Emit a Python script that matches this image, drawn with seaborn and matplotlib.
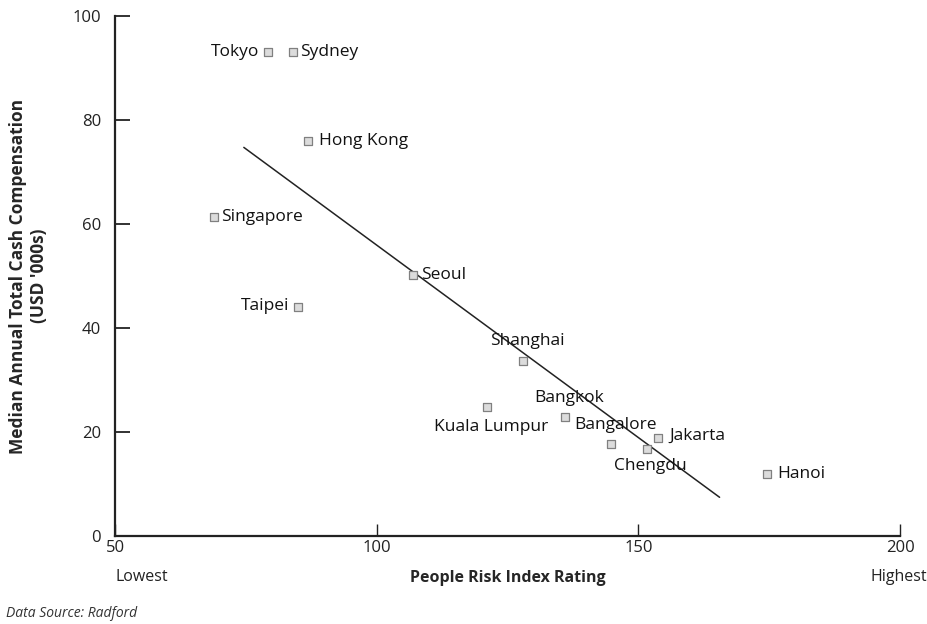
import numpy as np
import pandas as pd
import matplotlib
matplotlib.use("Agg")
import matplotlib.pyplot as plt
import seaborn as sns

# values
cities = ["Tokyo", "Sydney", "Hong Kong", "Singapore", "Taipei", "Seoul", "Shanghai",
          "Kuala Lumpur", "Bangkok", "Bangalore", "Chengdu", "Jakarta", "Hanoi"]
risk = [79.2, 84.0, 86.8, 68.9, 84.9, 106.9, 127.9, 121.0, 135.9, 144.8, 151.7, 153.8, 174.6]
pay = [93.1, 93.1, 76.0, 61.3, 44.0, 50.2, 33.7, 24.8, 22.9, 17.7, 16.7, 18.8, 11.9]
fit_range = [74.6, 165.5]
x_ticks = [50, 100, 150, 200]
y_ticks = [0, 20, 40, 60, 80, 100]

# label offsets (points) and alignment for each city
label_pos = {
    "Tokyo": (-6, 0, "right", "center"),
    "Sydney": (5, 0, "left", "center"),
    "Hong Kong": (8, 0, "left", "center"),
    "Singapore": (5, 0, "left", "center"),
    "Taipei": (-6, 1, "right", "center"),
    "Seoul": (6, 0, "left", "center"),
    "Shanghai": (3, 14, "center", "center"),
    "Kuala Lumpur": (3, -14, "center", "center"),
    "Bangkok": (3, 14, "center", "center"),
    "Bangalore": (3, 14, "center", "center"),
    "Chengdu": (2, -12, "center", "center"),
    "Jakarta": (8, 2, "left", "center"),
    "Hanoi": (7, 0, "left", "center"),
}

df = pd.DataFrame({"city": cities, "risk": risk, "pay": pay})

sns.set_theme(style="ticks")
plt.rcParams["font.family"] = ["Open Sans", "DejaVu Sans"]

fig = plt.figure(figsize=(9.28, 6.24), dpi=100)
ax = fig.add_axes([0.124, 0.141, 0.846, 0.833])

sns.scatterplot(data=df, x="risk", y="pay", marker="s", s=28, color="#dcdcdc",
                edgecolor="#808080", linewidth=0.9, ax=ax, zorder=3)

# least squares line, drawn over the span shown in the reference
slope, icpt = np.polyfit(df["risk"], df["pay"], 1)
line_x = np.array(fit_range)
sns.lineplot(x=line_x, y=slope * line_x + icpt, color="#222222", linewidth=1.1, ax=ax)

for _, r in df.iterrows():
    dx, dy, ha, va = label_pos[r["city"]]
    ax.annotate(r["city"], (r["risk"], r["pay"]), xytext=(dx, dy),
                textcoords="offset points", ha=ha, va=va, fontsize=12.5, color="#111111")

ax.set_xlim(50, 200)
ax.set_ylim(0, 100)
ax.set_xticks(x_ticks)
ax.set_yticks(y_ticks)
sns.despine(ax=ax)
for s in ["left", "bottom"]:
    ax.spines[s].set_color("#222222")
    ax.spines[s].set_linewidth(1.6)
ax.tick_params(axis="y", direction="in", length=11, width=1.3, color="#222222", pad=10,
               labelsize=12, labelcolor="#222222")
ax.tick_params(axis="x", direction="in", length=9, width=1.0, color="#222222", pad=3,
               labelsize=12, labelcolor="#222222")

ax.set_xlabel("People Risk Index Rating", fontsize=11.5, fontweight="bold", labelpad=10)
ax.set_ylabel("Median Annual Total Cash Compensation\n(USD '000s)", fontsize=12.5,
              fontweight="bold", labelpad=18)

fig.text(0.124, 0.075, "Lowest", ha="left", va="center", fontsize=11.5, color="#222222")
fig.text(0.999, 0.075, "Highest", ha="right", va="center", fontsize=11.5, color="#222222")
fig.text(0.006, 0.017, "Data Source: Radford", ha="left", va="center", fontsize=10,
         style="italic", color="#333333")

fig.savefig("out.png", dpi=100, facecolor="white")
